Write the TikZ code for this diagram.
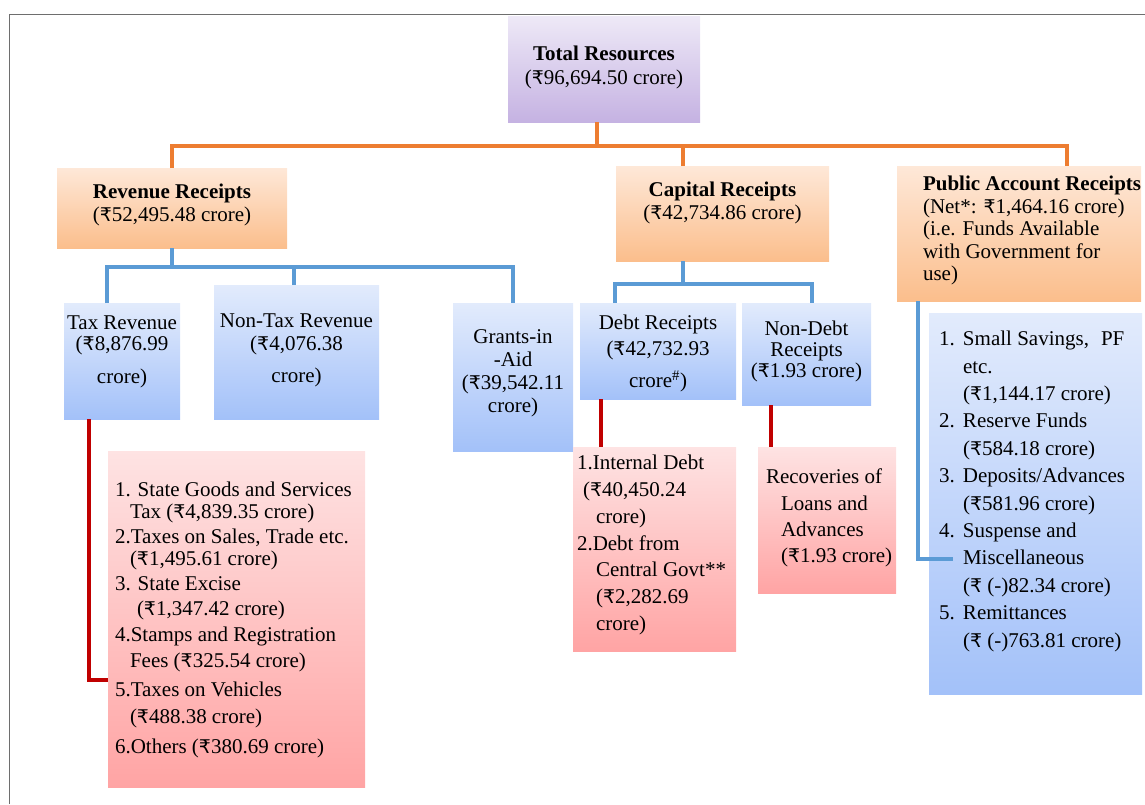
\documentclass[tikz,border=0pt]{standalone}
\usepackage{fontspec}
\setmainfont{Liberation Serif}
\newfontfamily\rsfont[Scale=0.9]{DejaVu Sans}
\newcommand\rs{{\rsfont ₹}}
\newcommand\ctext[5]{\parbox[c][#2pt][t]{#1pt}{\fontsize{21}{#4}\selectfont\vspace*{\dimexpr#3pt+3pt\relax}\centering\begin{tabular}[t]{@{}c@{}}#5\end{tabular}\par}}
\newcommand\ltext[6]{\parbox[c][#2pt][t]{#1pt}{\fontsize{21}{#4}\selectfont\vspace*{\dimexpr#3pt+3pt\relax}\hspace*{#5pt}\begin{tabular}[t]{@{}l@{}}#6\end{tabular}\par}}
\definecolor{pur1}{HTML}{EEE9F7}
\definecolor{pur2}{HTML}{C5B2E2}
\definecolor{or1}{HTML}{FEE8D8}
\definecolor{or2}{HTML}{FBBE8C}
\definecolor{bl1}{HTML}{E2EBFC}
\definecolor{bl2}{HTML}{A3C1F9}
\definecolor{rd1}{HTML}{FEE3E3}
\definecolor{rd2}{HTML}{FFA4A4}
\definecolor{ocol}{HTML}{ED7D31}
\definecolor{bcol}{HTML}{5B9BD5}
\definecolor{rcol}{HTML}{C00000}
\definecolor{frame}{HTML}{6E6E6E}
\tikzset{
  bx/.style={anchor=north west, inner sep=0pt, outer sep=0pt, text=black},
  pbox/.style={bx, top color=pur1, bottom color=pur2},
  obox/.style={bx, top color=or1, bottom color=or2},
  bbox/.style={bx, top color=bl1, bottom color=bl2},
  rbox/.style={bx, top color=rd1, bottom color=rd2},
  conn/.style={line width=4.5pt, line join=miter},
  oline/.style={conn, draw=ocol},
  bline/.style={conn, draw=bcol},
  rline/.style={conn, draw=rcol},
}
\begin{document}
\begin{tikzpicture}[x=1pt,y=-1pt]
\useasboundingbox (0,0) rectangle (1145,804);
\draw[frame, line width=1pt] (9.5,804) -- (9.5,14.5) -- (1145,14.5);

% level 0
\node[pbox] (tot) at (508,16) {\ctext{192}{106}{24.9}{24}{\textbf{Total Resources}\\(\rs96,694.50 crore)}};
% level 1
\node[obox] (rev) at (57,168) {\ctext{230}{80}{11.6}{23}{\textbf{Revenue Receipts}\\(\rs52,495.48 crore)}};
\node[obox] (cap) at (616,166) {\ctext{213}{95}{11.6}{23}{\textbf{Capital Receipts}\\(\rs42,734.86 crore)}};
\node[obox] (pub) at (897,166) {\ltext{244}{135}{5.95}{22.5}{26}{\textbf{Public Account Receipts}\\(Net*: \rs1,464.16 crore)\\(i.e. Funds Available\\with Government for\\use)}};
% level 2
\node[bbox] (tax) at (64,303) {\ctext{116}{116}{9}{21}{Tax Revenue\\(\rs8,876.99\\[12pt]crore)}};
\node[bbox] (ntax) at (214,285) {\ctext{165}{134}{23.6}{23}{Non-Tax Revenue\\(\rs4,076.38\\[9pt]crore)}};
\node[bbox] (gia) at (453,303) {\ctext{120}{148}{21.6}{23}{Grants-in\\-Aid\\(\rs39,542.11\\crore)}};
\node[bbox] (debt) at (580,303) {\ctext{156}{96}{5.5}{26}{Debt Receipts\\(\rs42,732.93\\[6pt]crore\textsuperscript{\#})}};
\node[bbox] (ndebt) at (742,303) {\ctext{129}{102}{15}{21}{Non-Debt\\Receipts\\(\rs1.93 crore)}};
\node[bbox] (plist) at (929,313) {\ltext{213}{381}{10.5}{27.4}{10}{%
\makebox[24pt][l]{1.}Small Savings,\hspace{12pt}PF\\
\hspace*{24pt}etc.\\
\hspace*{24pt}(\rs1,144.17 crore)\\
\makebox[24pt][l]{2.}Reserve Funds\\
\hspace*{24pt}(\rs584.18 crore)\\
\makebox[24pt][l]{3.}Deposits/Advances\\
\hspace*{24pt}(\rs581.96 crore)\\
\makebox[24pt][l]{4.}Suspense and\\
\hspace*{24pt}Miscellaneous\\
\hspace*{24pt}(\rs\ (-)82.34 crore)\\
\makebox[24pt][l]{5.}Remittances\\
\hspace*{24pt}(\rs\ (-)763.81 crore)}};
% level 3
\node[rbox] (tlist) at (108,451) {\ltext{257}{336}{27.3}{22}{7}{%
1. State Goods and Services\\
\hspace*{15pt}Tax (\rs4,839.35 crore)\\[3pt]
2.Taxes on Sales, Trade etc.\\
\hspace*{15pt}(\rs1,495.61 crore)\\[3pt]
3. State Excise\\[3pt]
\hspace*{22pt}(\rs1,347.42 crore)\\[4pt]
4.Stamps and Registration\\[4pt]
\hspace*{15pt}Fees (\rs325.54 crore)\\[7pt]
5.Taxes on Vehicles\\[5pt]
\hspace*{15pt}(\rs488.38 crore)\\[8pt]
6.Others (\rs380.69 crore)}};
\node[rbox] (idebt) at (573,447) {\ltext{163}{204}{0.94}{26.8}{4}{%
1.Internal Debt\\
\hspace*{6pt}(\rs40,450.24\\
\hspace*{19pt}crore)\\
2.Debt from\\
\hspace*{19pt}Central Govt**\\
\hspace*{19pt}(\rs2,282.69\\
\hspace*{19pt}crore)}};
\node[rbox] (recov) at (758,447) {\ltext{138}{146}{15.3}{26.3}{8}{%
Recoveries of\\
\hspace*{15pt}Loans and\\
\hspace*{15pt}Advances\\
\hspace*{15pt}(\rs1.93 crore)}};

% orange connectors
\draw[oline] ([xshift=-7pt]tot.south) -- ++(0,24);
\draw[oline] (rev.north) -- ++(0,-22) -| ([xshift=-74pt]pub.north east);
\draw[oline] ([xshift=-39.5pt]cap.north) -- ++(0,-20);
% blue connectors
\draw[bline] (rev.south) -- ++(0,19);
\draw[bline] ([xshift=-15pt]tax.north) -- ++(0,-36) -| (gia.north);
\draw[bline] ([xshift=-2.5pt]ntax.north) -- ++(0,-18);
\draw[bline] ([xshift=-39.5pt]cap.south) -- ++(0,23);
\draw[bline] ([xshift=-43pt]debt.north) -- ++(0,-19) -| ([xshift=5.5pt]ndebt.north);
\draw[bline] ([xshift=-101pt]pub.south) |- ([xshift=24pt,yshift=-55.5pt]plist.west);
% red connectors
\draw[rline] ([xshift=-33pt]tax.south) |- ([yshift=-61pt]tlist.west);
\draw[rline] ([xshift=-57pt]debt.south) -- ([xshift=-57pt]debt.south |- idebt.north);
\draw[rline] ([xshift=-35.5pt]ndebt.south) -- ([xshift=-35.5pt]ndebt.south |- recov.north);
\end{tikzpicture}
\end{document}
